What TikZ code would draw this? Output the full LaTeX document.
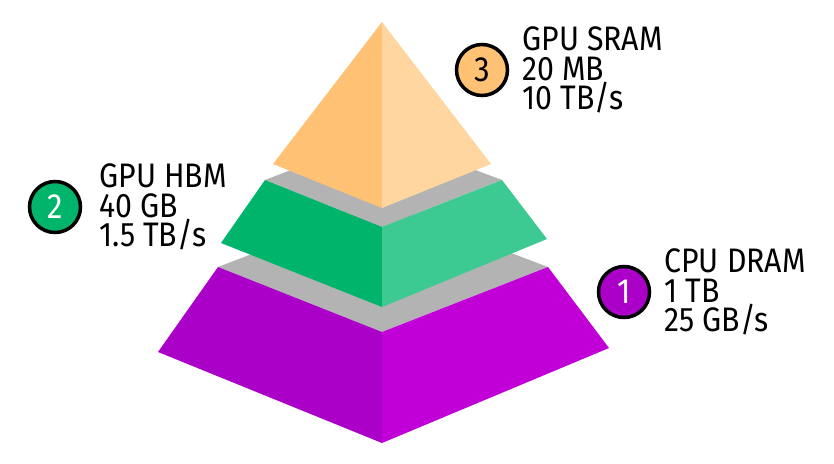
\documentclass[tikz,border=0pt]{standalone}
\usepackage{fontspec}
\setmainfont{Fira Sans}[FakeStretch=0.89]
\usetikzlibrary{positioning}
\definecolor{dramL}{RGB}{171,0,200}
\definecolor{dramR}{RGB}{192,0,214}
\definecolor{hbmL}{RGB}{0,181,107}
\definecolor{hbmR}{RGB}{61,202,146}
\definecolor{sramL}{RGB}{255,193,115}
\definecolor{sramR}{RGB}{255,214,160}
\definecolor{slab}{RGB}{179,179,179}
\tikzset{
	num/.style={circle, draw=black, line width=3.5pt, minimum size=51pt, inner sep=0pt, font=\fontsize{35}{35}\selectfont},
	lbl/.style={align=left, inner sep=0pt, font=\fontsize{34}{29.5}\selectfont}
}

\begin{document}
\begin{tikzpicture}[x=1pt, y=-1pt]
		%%%%% START %%%%%
		\useasboundingbox (0, 0) rectangle (834, 463);
		
		% CPU DRAM layer
		\fill[slab] (218, 267) -- (382, 204) -- (548, 267) -- (382, 332) -- cycle;
		\fill[dramL] (218, 267) -- (382, 332) -- (382, 443) -- (158, 352) -- cycle;
		\fill[dramR] (382, 332) -- (548, 267) -- (609, 348) -- (382, 443) -- cycle;
		
		% GPU HBM layer
		\fill[slab] (265, 180) -- (382, 135) -- (502, 180) -- (382, 227) -- cycle;
		\fill[hbmL] (265, 180) -- (382, 227) -- (382, 307) -- (221, 243) -- cycle;
		\fill[hbmR] (382, 227) -- (502, 180) -- (547, 239) -- (382, 307) -- cycle;
		
		% GPU SRAM layer
		\fill[sramL] (382, 22) -- (273, 164) -- (382, 208) -- cycle;
		\fill[sramR] (382, 22) -- (382, 208) -- (491, 164) -- cycle;
		
		\node[num, fill=dramL, text=white] (one) at (624, 292) {1};
		\node[lbl, right=13pt of one] (dram) {CPU DRAM\\1 TB\\25 GB/s};
		
		\node[num, fill=hbmL, text=white] (two) at (55, 207) {2};
		\node[lbl, right=17pt of two] (hbm) {GPU HBM\\40 GB\\1.5 TB/s};
		
		\node[num, fill=sramL] (three) at (482, 70) {3};
		\node[lbl, right=13pt of three] (sram) {GPU SRAM\\20 MB\\10 TB/s};
		%%%%% END %%%%%
	\end{tikzpicture}
\end{document}
